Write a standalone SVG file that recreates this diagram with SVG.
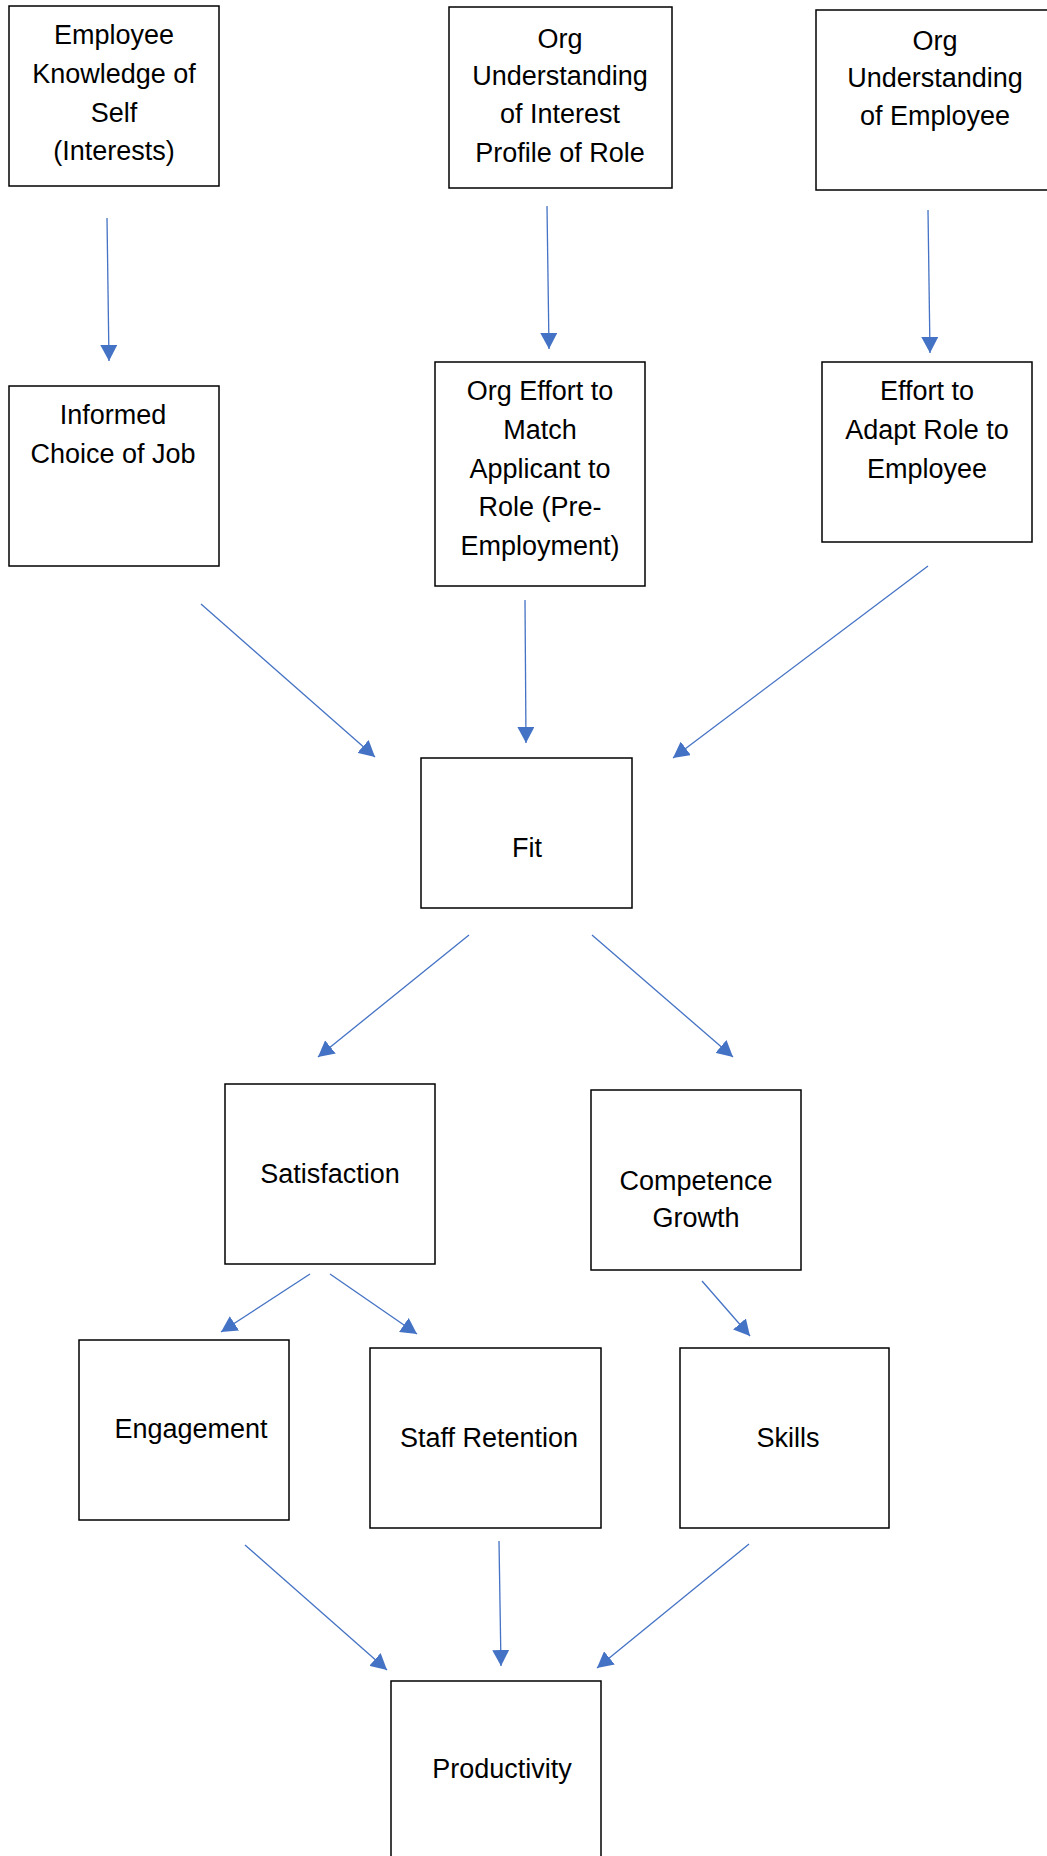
<svg xmlns="http://www.w3.org/2000/svg" width="1047" height="1856" viewBox="0 0 1047 1856">
  <style>
    .box { fill: #ffffff; stroke: #000000; stroke-width: 1.5; }
    .lbl { font-family: "Liberation Sans", Arial, sans-serif; font-size: 27px; fill: #000000; text-anchor: middle; }
    .edge { stroke: #4472C4; stroke-width: 1.3; fill: none; marker-end: url(#arrow); }
  </style>
  <defs>
    <marker id="arrow" markerUnits="userSpaceOnUse" markerWidth="17" markerHeight="17" refX="16" refY="8.5" orient="auto">
      <path d="M0,0 L16,8.5 L0,17 Z" fill="#4472C4"/>
    </marker>
  </defs>
  <rect width="1047" height="1856" fill="#ffffff"/>

  <!-- top row -->
  <g id="knowledge-of-self">
    <rect class="box" x="9" y="6" width="210" height="180"/>
    <text class="lbl" x="114" y="44">Employee</text>
    <text class="lbl" x="114" y="83">Knowledge of</text>
    <text class="lbl" x="114" y="122">Self</text>
    <text class="lbl" x="114" y="160">(Interests)</text>
  </g>
  <g id="org-understanding-role">
    <rect class="box" x="449" y="7" width="223" height="181"/>
    <text class="lbl" x="560" y="48">Org</text>
    <text class="lbl" x="560" y="85">Understanding</text>
    <text class="lbl" x="560" y="123">of Interest</text>
    <text class="lbl" x="560" y="162">Profile of Role</text>
  </g>
  <g id="org-understanding-employee">
    <rect class="box" x="816" y="10" width="240" height="180"/>
    <text class="lbl" x="935" y="50">Org</text>
    <text class="lbl" x="935" y="87">Understanding</text>
    <text class="lbl" x="935" y="125">of Employee</text>
  </g>

  <!-- second row -->
  <g id="informed-choice">
    <rect class="box" x="9" y="386" width="210" height="180"/>
    <text class="lbl" x="113" y="424">Informed</text>
    <text class="lbl" x="113" y="463">Choice of Job</text>
  </g>
  <g id="org-effort-match">
    <rect class="box" x="435" y="362" width="210" height="224"/>
    <text class="lbl" x="540" y="400">Org Effort to</text>
    <text class="lbl" x="540" y="439">Match</text>
    <text class="lbl" x="540" y="478">Applicant to</text>
    <text class="lbl" x="540" y="516">Role (Pre-</text>
    <text class="lbl" x="540" y="555">Employment)</text>
  </g>
  <g id="effort-adapt-role">
    <rect class="box" x="822" y="362" width="210" height="180"/>
    <text class="lbl" x="927" y="400">Effort to</text>
    <text class="lbl" x="927" y="439">Adapt Role to</text>
    <text class="lbl" x="927" y="478">Employee</text>
  </g>

  <!-- centre -->
  <g id="fit">
    <rect class="box" x="421" y="758" width="211" height="150"/>
    <text class="lbl" x="527" y="857">Fit</text>
  </g>

  <g id="satisfaction">
    <rect class="box" x="225" y="1084" width="210" height="180"/>
    <text class="lbl" x="330" y="1183">Satisfaction</text>
  </g>
  <g id="competence-growth">
    <rect class="box" x="591" y="1090" width="210" height="180"/>
    <text class="lbl" x="696" y="1190">Competence</text>
    <text class="lbl" x="696" y="1227">Growth</text>
  </g>

  <g id="engagement">
    <rect class="box" x="79" y="1340" width="210" height="180"/>
    <text class="lbl" x="191" y="1438">Engagement</text>
  </g>
  <g id="staff-retention">
    <rect class="box" x="370" y="1348" width="231" height="180"/>
    <text class="lbl" x="489" y="1447">Staff Retention</text>
  </g>
  <g id="skills">
    <rect class="box" x="680" y="1348" width="209" height="180"/>
    <text class="lbl" x="788" y="1447">Skills</text>
  </g>

  <g id="productivity">
    <rect class="box" x="391" y="1681" width="210" height="185"/>
    <text class="lbl" x="502" y="1778">Productivity</text>
  </g>

  <!-- connectors -->
  <g id="connectors">
    <line class="edge" x1="107" y1="218" x2="109" y2="361"/>
    <line class="edge" x1="547" y1="206" x2="549" y2="349"/>
    <line class="edge" x1="928" y1="210" x2="930" y2="353"/>

    <line class="edge" x1="201" y1="604" x2="375" y2="757"/>
    <line class="edge" x1="525" y1="600" x2="526" y2="743"/>
    <line class="edge" x1="928" y1="566" x2="673" y2="758"/>

    <line class="edge" x1="469" y1="935" x2="318" y2="1057"/>
    <line class="edge" x1="592" y1="935" x2="733" y2="1057"/>

    <line class="edge" x1="310" y1="1274" x2="221" y2="1332"/>
    <line class="edge" x1="330" y1="1274" x2="417" y2="1334"/>
    <line class="edge" x1="702" y1="1281" x2="750" y2="1336"/>

    <line class="edge" x1="245" y1="1545" x2="387" y2="1670"/>
    <line class="edge" x1="499" y1="1541" x2="501" y2="1666"/>
    <line class="edge" x1="749" y1="1544" x2="597" y2="1668"/>
  </g>
</svg>
